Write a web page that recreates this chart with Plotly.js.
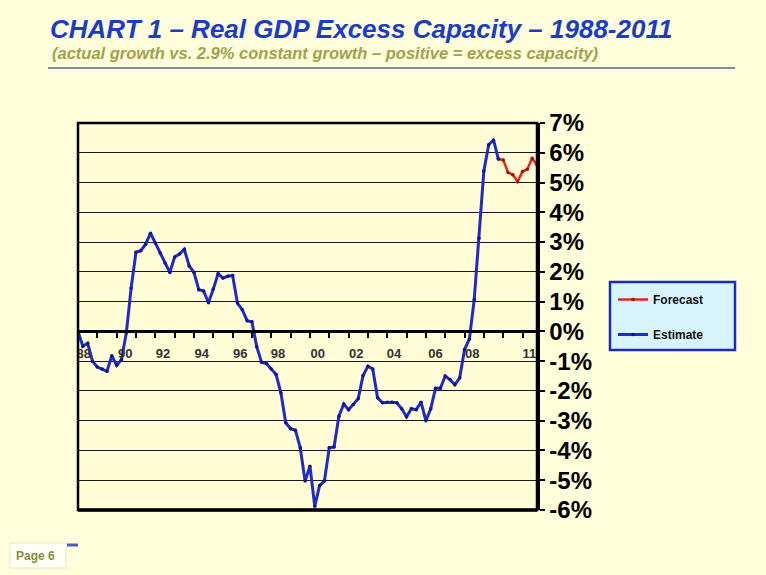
<!DOCTYPE html>
<html>
<head>
<meta charset="utf-8">
<script src="https://cdn.plot.ly/plotly-3.0.1.min.js"></script>
<style>
  html, body { margin: 0; padding: 0; background: #FFFDDA; }
  #chart { width: 766px; height: 575px; }
</style>
</head>
<body>
<div id="chart"></div>
<script>
// ---------------- DATA (quarterly, % of GDP) ----------------
const firstYear = 1988;            // series start: 1988 Q1
const forecastStartIndex = 87;     // 2009 Q4 (shared point with estimate)

const estimate = [
  0.00, -0.50, -0.40, -1.00, -1.20, -1.26, -1.34, -0.82, -1.14, -0.95,
  -0.05, 1.46, 2.66, 2.71, 2.93, 3.30, 2.97, 2.63, 2.30, 1.98,
  2.50, 2.60, 2.76, 2.20, 1.98, 1.40, 1.36, 0.96, 1.42, 1.94,
  1.79, 1.85, 1.88, 0.95, 0.73, 0.36, 0.32, -0.52, -1.04, -1.08,
  -1.26, -1.45, -2.07, -3.07, -3.27, -3.32, -3.91, -5.03, -4.53, -5.87,
  -5.18, -5.03, -3.91, -3.88, -2.85, -2.44, -2.63, -2.46, -2.26, -1.48,
  -1.17, -1.26, -2.23, -2.40, -2.38, -2.38, -2.40, -2.60, -2.87, -2.60,
  -2.63, -2.38, -3.00, -2.60, -1.91, -1.91, -1.50, -1.62, -1.79, -1.56,
  -0.61, -0.26, 1.06, 3.13, 5.39, 6.27, 6.43, 5.79
];

const forecast = [5.79, 5.76, 5.34, 5.26, 5.03, 5.37, 5.45, 5.82, 5.59];

const xTickLabels = ['88', '90', '92', '94', '96', '98', '00', '02', '04', '06', '08', '11'];
const xTickPos    = [1988.3, 1990.45, 1992.4, 1994.4, 1996.4, 1998.35, 2000.4, 2002.4, 2004.35, 2006.5, 2008.4, 2011.35];

const yTickVals   = [-6, -5, -4, -3, -2, -1, 0, 1, 2, 3, 4, 5, 6, 7];
const yTickLabels = ['-6%', '-5%', '-4%', '-3%', '-2%', '-1%', '0%', '1%', '2%', '3%', '4%', '5%', '6%', '7%'];

const titleText    = 'CHART 1 – Real GDP Excess Capacity – 1988-2011';
const subtitleText = '(actual growth vs. 2.9% constant growth – positive = excess capacity)';

// ---------------- LAYOUT HELPERS ----------------
const PL = 78, PR = 537, PT = 123, PB = 510;
const W = 766, H = 575;
const px = x => (x - PL) / (PR - PL);
const py = y => (PB - y) / (PB - PT);
const FONT = 'Liberation Sans, Arial, sans-serif';

const quarterX = i => firstYear + i / 4;
const estimateX = estimate.map((_, i) => quarterX(i));
const forecastX = forecast.map((_, i) => quarterX(forecastStartIndex + i));

const yMin = yTickVals[0], yMax = yTickVals[yTickVals.length - 1];

const traces = [
  {
    x: forecastX, y: forecast, name: 'Forecast', type: 'scatter', mode: 'lines+markers',
    line: { color: '#E42416', width: 2.5 },
    marker: { size: 3.5, color: '#A01008' },
    legendgroup: 'f', hoverinfo: 'skip'
  },
  {
    x: estimateX, y: estimate, name: 'Estimate', type: 'scatter', mode: 'lines+markers',
    line: { color: '#1F2AC8', width: 3 },
    marker: { size: 3.5, color: '#0E1690' },
    legendgroup: 'e', hoverinfo: 'skip'
  }
];

const layout = {
  width: W, height: H,
  margin: { l: PL, r: W - PR, t: PT, b: H - PB, pad: 0 },
  paper_bgcolor: '#FFFDDA',
  plot_bgcolor: '#FFFCD6',
  showlegend: true,
  title: {
    text: titleText,
    font: { family: FONT, size: 26, color: '#1A3CC8', weight: 'bold', style: 'italic' },
    x: 50 / W, xref: 'container', xanchor: 'left',
    y: 1 - 29 / H, yref: 'container', yanchor: 'middle'
  },
  xaxis: {
    range: [firstYear, quarterX(estimate.length + forecast.length - 2)],
    tickmode: 'array', tickvals: xTickPos, ticktext: xTickLabels,
    ticks: 'outside', ticklen: 9, tickcolor: 'rgba(0,0,0,0)',
    tickfont: { family: FONT, size: 13, color: '#333333', weight: 'bold' },
    showgrid: false, zeroline: false,
    showline: true, linecolor: '#000000', linewidth: 3,
    anchor: 'free', position: (0 - yMin) / (yMax - yMin),
    minor: { tickmode: 'linear', tick0: firstYear, dtick: 1, ticks: 'outside', ticklen: 5, tickwidth: 2, tickcolor: '#000000', showgrid: false },
    fixedrange: true
  },
  yaxis: {
    side: 'right', range: [yMin, yMax],
    tickmode: 'array', tickvals: yTickVals, ticktext: yTickLabels,
    tickfont: { family: FONT, size: 24, color: '#000000', weight: 'bold' },
    ticks: 'outside', ticklen: 5, tickwidth: 2, tickcolor: '#000000',
    showgrid: true, gridcolor: '#1A1A1A', gridwidth: 1,
    zeroline: true, zerolinecolor: '#000000', zerolinewidth: 3,
    showline: true, linecolor: '#000000', linewidth: 2.5,
    fixedrange: true
  },
  legend: {
    x: px(613), xanchor: 'left', y: py(285), yanchor: 'top',
    bgcolor: 'rgba(0,0,0,0)', borderwidth: 0,
    font: { family: FONT, size: 12, color: '#111111', weight: 'bold' },
    traceorder: 'grouped', tracegroupgap: 16
  },
  shapes: [
    // plot frame
    { type: 'rect', xref: 'paper', yref: 'paper', x0: 0, x1: 1, y0: 0, y1: 1,
      line: { color: '#000000', width: 2.5 }, fillcolor: 'rgba(0,0,0,0)', layer: 'above' },
    // heavier bottom edge
    { type: 'line', xref: 'paper', yref: 'paper', x0: 0, x1: 1, y0: 0, y1: 0,
      line: { color: '#000000', width: 3.5 }, layer: 'above' },
    // rule under title
    { type: 'line', xref: 'paper', yref: 'paper', x0: px(48), x1: px(735), y0: py(68), y1: py(68),
      line: { color: '#7F8CA8', width: 2 } },
    // legend box
    { type: 'rect', xref: 'paper', yref: 'paper', x0: px(610), x1: px(735), y0: py(350), y1: py(282),
      fillcolor: '#D7F4FC', line: { color: '#1C2AC0', width: 2.5 }, layer: 'above' },
    // page box
    { type: 'rect', xref: 'paper', yref: 'paper', x0: px(10), x1: px(66), y0: py(568), y1: py(543),
      fillcolor: '#FFFFF3', line: { color: '#E6E6D6', width: 1 } },
    { type: 'line', xref: 'paper', yref: 'paper', x0: px(67), x1: px(78), y0: py(545), y1: py(545),
      line: { color: '#4A58C8', width: 3 } }
  ],
  annotations: [
    { text: subtitleText, xref: 'paper', yref: 'paper', x: px(50), y: py(53),
      xanchor: 'left', yanchor: 'middle', showarrow: false,
      font: { family: FONT, size: 16.5, color: '#A3A04E', weight: 'bold', style: 'italic' } },
    { text: 'Page 6', xref: 'paper', yref: 'paper', x: px(35), y: py(556),
      xanchor: 'center', yanchor: 'middle', showarrow: false,
      font: { family: FONT, size: 12, color: '#8A8A3A', weight: 'bold' } }
  ]
};

Plotly.newPlot('chart', traces, layout, { staticPlot: true, displayModeBar: false });
</script>
</body>
</html>
